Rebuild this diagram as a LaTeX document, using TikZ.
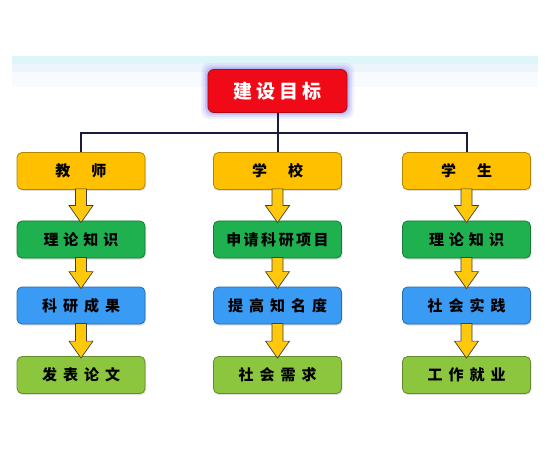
\documentclass[tikz,border=0pt]{standalone}
\usepackage{fontspec}
\newfontfamily\cjk{Noto Sans CJK SC Black}
\usetikzlibrary{calc,shadows}
\definecolor{cred}{HTML}{F00A18}
\definecolor{cyel}{HTML}{FFC000}
\definecolor{cgrn}{HTML}{1FB04F}
\definecolor{cblu}{HTML}{3A9BF4}
\definecolor{clgr}{HTML}{8CC63F}
\definecolor{cline}{HTML}{1A1A40}
\definecolor{carrow}{HTML}{FFC80A}
\definecolor{cglow}{HTML}{8C8CF0}
\tikzset{
  box/.style={rounded corners=5pt, minimum width=128pt, minimum height=37pt,
    inner sep=0pt, font=\cjk\fontsize{15pt}{15pt}\selectfont,
    drop shadow={shadow xshift=1pt, shadow yshift=-1.5pt, opacity=0.25}},
  ybox/.style={box, fill=cyel, draw=cyel!70!black, line width=0.8pt},
  gbox/.style={box, fill=cgrn, draw=cgrn!70!black, line width=0.8pt},
  bbox/.style={box, fill=cblu, draw=cblu!70!black, line width=0.8pt},
  lbox/.style={box, fill=clgr, draw=clgr!70!black, line width=0.8pt},
  topbox/.style={rounded corners=6pt, minimum width=139pt, minimum height=43pt,
    inner sep=0pt, fill=cred, draw=cred!75!black, line width=0.8pt, text=white,
    font=\cjk\fontsize{19pt}{19pt}\selectfont},
  conn/.style={draw=cline, line width=2pt},
  barrow/.style={fill=carrow, draw=black!75, line width=0.7pt, line join=miter}
}
\newcommand\blockarrow[2]{%
  \draw[barrow] ($(#1.south)+(-5.5,-1)$) -- ($(#2.north)+(-5.5,-15)$) -- ($(#2.north)+(-12,-15)$)
    -- ($(#2.north)+(0,2)$) -- ($(#2.north)+(12,-15)$) -- ($(#2.north)+(5.5,-15)$)
    -- ($(#1.south)+(5.5,-1)$) -- cycle;}
\begin{document}
\begin{tikzpicture}[x=1pt,y=-1pt]
\useasboundingbox[fill=white] (0,0) rectangle (550,460);
% top band
\fill[color={rgb,255:red,222;green,246;blue,247}] (12,56) rectangle (538,64);
\fill[color={rgb,255:red,237;green,244;blue,252}] (12,64) rectangle (538,72);
\fill[color={rgb,255:red,247;green,251;blue,254}] (12,72) rectangle (538,87);
% glow of top node
\foreach \g/\o in {7/0.12,5/0.18,3/0.28,1.5/0.4}{
  \fill[cglow, opacity=\o, rounded corners=8pt] ($(208,70)+(-\g,-\g)$) rectangle ($(347,112)+(\g,\g)$);
}
\node[topbox] (top) at (277.5,91) {建\hspace{4pt}设\hspace{4pt}目\hspace{4pt}标};
% row 1
\node[ybox] (t1) at (81,171) {教\hspace{21pt}师};
\node[ybox] (s1) at (277.5,171) {学\hspace{21pt}校};
\node[ybox] (u1) at (466.5,171) {学\hspace{21pt}生};
% row 2
\node[gbox] (t2) at (81,239.5) {理\hspace{5pt}论\hspace{5pt}知\hspace{5pt}识};
\node[gbox] (s2) at (277.5,239.5) {申\hspace{2.5pt}请\hspace{2.5pt}科\hspace{2.5pt}研\hspace{2.5pt}项\hspace{2.5pt}目};
\node[gbox] (u2) at (466.5,239.5) {理\hspace{5pt}论\hspace{5pt}知\hspace{5pt}识};
% row 3
\node[bbox] (t3) at (81,305.5) {科\hspace{6pt}研\hspace{6pt}成\hspace{6pt}果};
\node[bbox] (s3) at (277.5,305.5) {提\hspace{6pt}高\hspace{6pt}知\hspace{6pt}名\hspace{6pt}度};
\node[bbox] (u3) at (466.5,305.5) {社\hspace{6pt}会\hspace{6pt}实\hspace{6pt}践};
% row 4
\node[lbox] (t4) at (81,375) {发\hspace{6pt}表\hspace{6pt}论\hspace{6pt}文};
\node[lbox] (s4) at (277.5,375) {社\hspace{6pt}会\hspace{6pt}需\hspace{6pt}求};
\node[lbox] (u4) at (466.5,375) {工\hspace{6pt}作\hspace{6pt}就\hspace{6pt}业};
% connectors
\coordinate (bar) at (277.5,133);
\draw[conn] (top.south) -- (s1.north);
\draw[conn, line join=miter] (t1.north) -- (t1.north |- bar) -- (u1.north |- bar) -- (u1.north);
% block arrows
\blockarrow{t1}{t2}\blockarrow{t2}{t3}\blockarrow{t3}{t4}
\blockarrow{s1}{s2}\blockarrow{s2}{s3}\blockarrow{s3}{s4}
\blockarrow{u1}{u2}\blockarrow{u2}{u3}\blockarrow{u3}{u4}
\end{tikzpicture}
\end{document}
